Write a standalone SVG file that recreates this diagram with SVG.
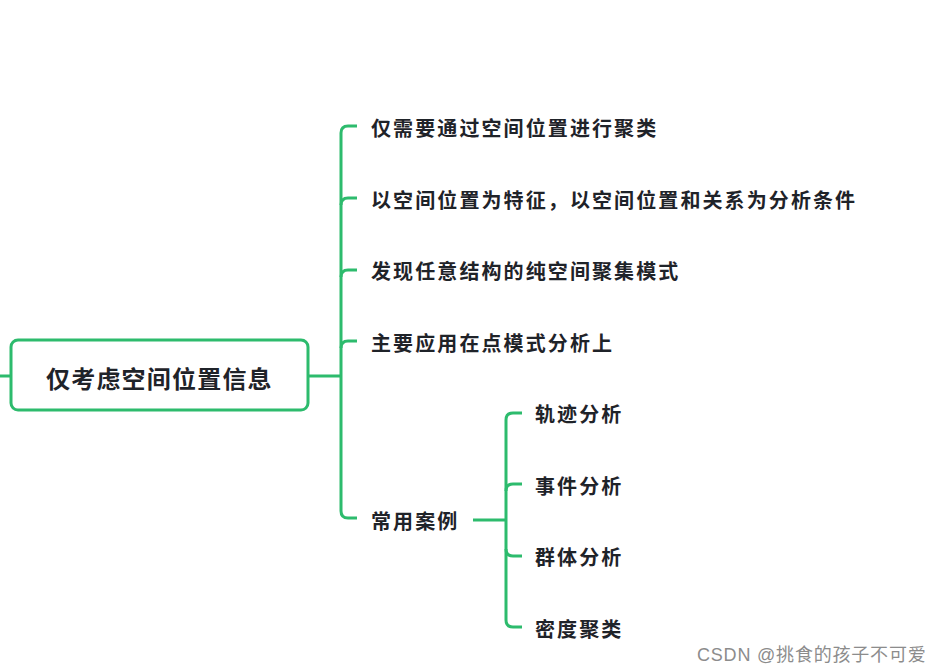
<svg xmlns="http://www.w3.org/2000/svg" width="942" height="672" viewBox="0 0 942 672">
<style>
.ln{fill:none;stroke:#2dbb6d;stroke-width:3;stroke-linecap:butt;stroke-linejoin:round}
.t{font-family:"Noto Sans CJK SC","Noto Sans",sans-serif;font-weight:bold;fill:#1f2329;font-size:20px;letter-spacing:2.1px;dominant-baseline:central}
.m{font-size:24px;letter-spacing:1.2px}
.wm{font-family:"Liberation Sans","Noto Sans CJK SC",sans-serif;font-size:18px;fill:#8c8c8c;letter-spacing:0.8px}
</style>
<rect width="942" height="672" fill="#ffffff"/>
<g id="connectors">
<path class="ln" d="M0 376 H11"/>
<path class="ln" d="M308 376 H341"/>
<path class="ln" d="M357 126 H348 Q341 126 341 133 V511 Q341 518 348 518 H357"/>
<path class="ln" d="M341 205 Q341 198 348 198 H357"/>
<path class="ln" d="M341 277 Q341 270 348 270 H357"/>
<path class="ln" d="M341 348 Q341 341 348 341 H357"/>
<path class="ln" d="M473 520 H506"/>
<path class="ln" d="M522 413 H513 Q506 413 506 420 V620 Q506 627 513 627 H522"/>
<path class="ln" d="M506 491 Q506 484 513 484 H522"/>
<path class="ln" d="M506 549 Q506 556 513 556 H522"/>
</g>
<g id="root">
<rect x="11" y="340" width="297" height="70" rx="7" fill="#ffffff" stroke="#2dbb6d" stroke-width="3"/>
<text class="t m" x="46" y="377">仅考虑空间位置信息</text>
</g>
<g id="n1"><text class="t" x="371" y="127">仅需要通过空间位置进行聚类</text></g>
<g id="n2"><text class="t" x="371" y="199">以空间位置为特征，以空间位置和关系为分析条件</text></g>
<g id="n3"><text class="t" x="371" y="270">发现任意结构的纯空间聚集模式</text></g>
<g id="n4"><text class="t" x="371" y="342">主要应用在点模式分析上</text></g>
<g id="n5"><text class="t" x="371" y="520">常用案例</text></g>
<g id="n6"><text class="t" x="535" y="413">轨迹分析</text></g>
<g id="n7"><text class="t" x="535" y="485">事件分析</text></g>
<g id="n8"><text class="t" x="535" y="556">群体分析</text></g>
<g id="n9"><text class="t" x="535" y="628">密度聚类</text></g>
<text class="wm" x="697" y="661">CSDN @挑食的孩子不可爱</text>
</svg>
